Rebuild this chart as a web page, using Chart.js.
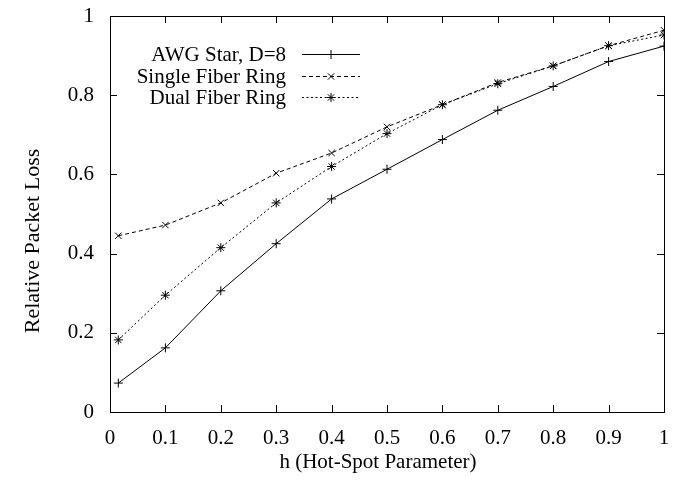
<!DOCTYPE html>
<html>
<head>
<meta charset="utf-8">
<script src="https://cdn.jsdelivr.net/npm/chart.js@4/dist/chart.umd.min.js"></script>
<style>
  html, body { margin: 0; padding: 0; background: #fff; }
  #c { display: block; }
</style>
</head>
<body>
<canvas id="c" width="675" height="481"></canvas>
<script>
// ---- data ----
const hValues = [0.015, 0.1, 0.2, 0.3, 0.4, 0.5, 0.6, 0.7, 0.8, 0.9, 1.0];
const awgStar = [0.073, 0.162, 0.306, 0.425, 0.538, 0.613, 0.688, 0.762, 0.822, 0.885, 0.924];
const singleRing = [0.445, 0.472, 0.528, 0.603, 0.654, 0.720, 0.776, 0.832, 0.874, 0.925, 0.964];
const dualRing = [0.182, 0.295, 0.415, 0.528, 0.620, 0.703, 0.776, 0.829, 0.874, 0.925, 0.952];
const seriesNames = ['AWG Star, D=8', 'Single Fiber Ring', 'Dual Fiber Ring'];
const xTicks = [0, 0.1, 0.2, 0.3, 0.4, 0.5, 0.6, 0.7, 0.8, 0.9, 1];
const yTicks = [0, 0.2, 0.4, 0.6, 0.8, 1];
const xTitle = 'h (Hot-Spot Parameter)';
const yTitle = 'Relative Packet Loss';

const FONT = "'Liberation Serif', 'Times New Roman', serif";
const toPts = vals => vals.map((v, i) => ({ x: hValues[i], y: v }));

// inward ticks on all four sides + full border box
const framePlugin = {
  id: 'frame',
  afterDatasetsDraw(chart) {
    const { ctx, chartArea: a, scales: { x, y } } = chart;
    const L = 7;
    ctx.save();
    ctx.strokeStyle = '#000';
    ctx.lineWidth = 1;
    ctx.beginPath();
    xTicks.forEach(t => {
      const px = Math.round(x.getPixelForValue(t)) + 0.5;
      ctx.moveTo(px, a.bottom); ctx.lineTo(px, a.bottom - L);
      ctx.moveTo(px, a.top); ctx.lineTo(px, a.top + L);
    });
    yTicks.forEach(t => {
      const py = Math.round(y.getPixelForValue(t)) + 0.5;
      ctx.moveTo(a.left, py); ctx.lineTo(a.left + L, py);
      ctx.moveTo(a.right, py); ctx.lineTo(a.right - L, py);
    });
    ctx.stroke();
    ctx.strokeRect(Math.round(a.left) + 0.5, Math.round(a.top) + 0.5,
                   Math.round(a.right - a.left), Math.round(a.bottom - a.top));
    ctx.restore();
  }
};

// axis titles placed as in the gnuplot original
const titlePlugin = {
  id: 'gpTitles',
  afterDraw(chart) {
    const { ctx } = chart;
    ctx.save();
    ctx.fillStyle = '#000';
    ctx.textAlign = 'center';
    ctx.textBaseline = 'middle';
    ctx.font = '21px ' + FONT;
    ctx.fillText(xTitle, 378, 462);
    ctx.translate(33, 241);
    ctx.rotate(-Math.PI / 2);
    ctx.font = '22px ' + FONT;
    ctx.fillText(yTitle, 0, 0);
    ctx.restore();
  }
};

// gnuplot-style legend: right-aligned text, then line sample with marker
const legendPlugin = {
  id: 'gpLegend',
  afterDatasetsDraw(chart) {
    const { ctx } = chart;
    const textRight = 286, lineX0 = 302, lineX1 = 360, rowY = [54, 76, 97];
    ctx.save();
    ctx.font = '21px ' + FONT;
    ctx.fillStyle = '#000';
    ctx.textAlign = 'right';
    ctx.textBaseline = 'middle';
    chart.data.datasets.forEach((ds, i) => {
      const yy = rowY[i];
      ctx.fillText(ds.label, textRight, yy + 1);
      ctx.beginPath();
      ctx.strokeStyle = '#000';
      ctx.lineWidth = 1;
      ctx.setLineDash(ds.borderDash || []);
      ctx.moveTo(lineX0, yy + 0.5);
      ctx.lineTo(lineX1, yy + 0.5);
      ctx.stroke();
      ctx.setLineDash([]);
      Chart.helpers.drawPoint(ctx, {
        pointStyle: ds.pointStyle, radius: ds.pointRadius, rotation: 0, borderWidth: 1
      }, (lineX0 + lineX1) / 2, yy + 0.5);
    });
    ctx.restore();
  }
};

const common = {
  borderColor: '#000', backgroundColor: '#000', borderWidth: 1,
  pointBorderColor: '#000', pointBackgroundColor: '#000', pointBorderWidth: 1,
  pointRadius: 4.5, fill: false, tension: 0
};

new Chart(document.getElementById('c'), {
  type: 'line',
  data: {
    datasets: [
      Object.assign({}, common, { label: seriesNames[0], data: toPts(awgStar), pointStyle: 'cross', borderDash: [] }),
      Object.assign({}, common, { label: seriesNames[1], data: toPts(singleRing), pointStyle: 'crossRot', borderDash: [4, 3] }),
      Object.assign({}, common, { label: seriesNames[2], data: toPts(dualRing), pointStyle: 'star', borderDash: [2, 2.5] })
    ]
  },
  options: {
    responsive: false,
    animation: false,
    devicePixelRatio: 1,
    layout: { padding: { top: 16, right: 11, left: 0, bottom: 0 } },
    plugins: { legend: { display: false }, tooltip: { enabled: false } },
    scales: {
      x: {
        type: 'linear', min: 0, max: 1,
        afterFit(s) { s.height = 69; s.paddingLeft = 0; s.paddingRight = 0; },
        afterBuildTicks(s) { s.ticks = xTicks.map(v => ({ value: v })); },
        grid: { display: false, drawTicks: false },
        border: { display: false },
        ticks: {
          color: '#000', padding: 14, maxRotation: 0, autoSkip: false,
          font: { family: FONT, size: 21 },
          callback: v => String(v)
        },
        title: { display: false, text: xTitle }
      },
      y: {
        type: 'linear', min: 0, max: 1,
        afterFit(s) { s.width = 110; s.paddingTop = 0; s.paddingBottom = 0; },
        afterBuildTicks(s) { s.ticks = yTicks.map(v => ({ value: v })); },
        grid: { display: false, drawTicks: false },
        border: { display: false },
        ticks: {
          color: '#000', padding: 16, autoSkip: false,
          font: { family: FONT, size: 21 },
          callback: v => String(v)
        },
        title: { display: false, text: yTitle }
      }
    }
  },
  plugins: [framePlugin, legendPlugin, titlePlugin]
});
</script>
</body>
</html>
